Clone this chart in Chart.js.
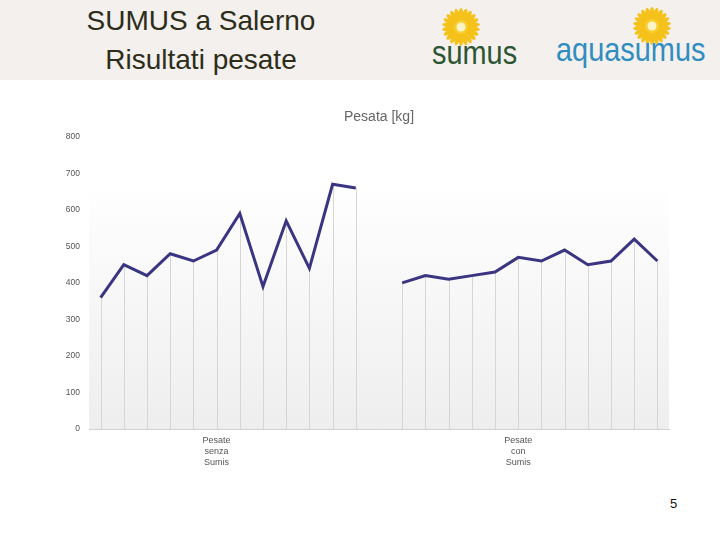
<!DOCTYPE html>
<html>
<head>
<meta charset="utf-8">
<script src="https://cdn.jsdelivr.net/npm/chart.js@4/dist/chart.umd.min.js"></script>
<style>
  body { margin: 0; width: 720px; height: 540px; background: #fff; position: relative; overflow: hidden; font-family: "Liberation Sans", Arial, sans-serif; }
  #header { position: absolute; left: 0; top: 0; width: 720px; height: 80px; background: #f3f0ed; }
  .title { position: absolute; left: 0; width: 402px; text-align: center; font-size: 28px; line-height: 32px; color: #2d2d1a; }
  .logo { position: absolute; font-size: 34px; line-height: 34px; transform: scaleX(0.85); transform-origin: left top; }
  #chartBox { position: absolute; left: 0; top: 90px; width: 720px; height: 400px; }
  #page { position: absolute; left: 670px; top: 496px; font-size: 13px; color: #111; }
</style>
</head>
<body>
<div id="header">
  <div class="title" style="top:5px;">SUMUS a Salerno</div>
  <div class="title" style="top:44px;">Risultati pesate</div>
  <svg style="position:absolute;left:441px;top:7px;" width="40" height="40" id="flower1"></svg>
  <svg style="position:absolute;left:632px;top:6px;" width="40" height="40" id="flower2"></svg>
  <div class="logo" style="left:432px;top:35px;color:#2c5533;">sumus</div>
  <div class="logo" style="left:556px;top:32px;color:#2f8dc0;">aquasumus</div>
</div>
<div id="chartBox"><canvas id="weighChart"></canvas></div>
<div id="page">5</div>

<script>
// data
const categories = [
  '', '', '', '', '', ['Pesate', 'senza', 'Sumis'], '', '', '', '', '', '',
  '',
  '', '', '', '', '', ['Pesate', 'con', 'Sumis'], '', '', '', '', '', ''
];
const weightsWithout = [360, 450, 420, 480, 460, 490, 590, 390, 570, 440, 670, 660];
const weightsWith = [400, 420, 410, 420, 430, 470, 460, 490, 450, 460, 520, 460];
const yTicks = [0, 100, 200, 300, 400, 500, 600, 700, 800];

// one series with a null gap between the two groups
const weights = weightsWithout.concat([null], weightsWith);

// sunflower icons
function drawFlower(id) {
  const svg = document.getElementById(id);
  let s = '';
  for (let i = 0; i < 22; i++) {
    const a = i * (360 / 22);
    s += '<ellipse cx="20" cy="8" rx="2.4" ry="7" fill="#f5c21b" transform="rotate(' + a + ' 20 20)"/>';
  }
  s += '<circle cx="20" cy="20" r="7" fill="#f8cf33"/>';
  s += '<circle cx="20" cy="20" r="4.5" fill="#fdf3c8"/>';
  svg.innerHTML = s;
}
drawFlower('flower1');
drawFlower('flower2');

// plot background gradient + drop lines from each point
const dropLines = {
  id: 'dropLines',
  beforeDatasetsDraw(chart) {
    const { ctx, chartArea, scales } = chart;
    const top = scales.y.getPixelForValue(680);
    const g = ctx.createLinearGradient(0, top, 0, chartArea.bottom);
    g.addColorStop(0, 'rgba(255,255,255,1)');
    g.addColorStop(1, '#eeeeee');
    ctx.save();
    ctx.fillStyle = g;
    ctx.fillRect(chartArea.left, top, chartArea.right - chartArea.left, chartArea.bottom - top);
    ctx.strokeStyle = '#d6d6d6';
    ctx.lineWidth = 1;
    const meta = chart.getDatasetMeta(0);
    meta.data.forEach((pt, i) => {
      if (weights[i] == null) return;
      const x = Math.round(pt.x) + 0.5;
      ctx.beginPath();
      ctx.moveTo(x, pt.y);
      ctx.lineTo(x, chartArea.bottom);
      ctx.stroke();
    });
    ctx.restore();
  }
};

const ctx = document.getElementById('weighChart').getContext('2d');
new Chart(ctx, {
  type: 'line',
  data: {
    labels: categories,
    datasets: [{
      label: 'Pesata [kg]',
      data: weights,
      borderColor: '#3a3580',
      borderWidth: 3,
      pointRadius: 0,
      tension: 0,
      spanGaps: false,
      fill: false
    }]
  },
  options: {
    responsive: true,
    maintainAspectRatio: false,
    animation: false,
    layout: { padding: { left: 0, right: 51, top: 0, bottom: 16 } },
    plugins: {
      legend: { display: false },
      tooltip: { enabled: false },
      title: {
        display: true,
        fullSize: false,
        text: 'Pesata [kg]',
        color: '#666',
        font: { family: 'Liberation Sans', size: 14, weight: 'normal' },
        padding: { top: 19, bottom: 11 }
      }
    },
    scales: {
      x: {
        offset: true,
        grid: { display: false, drawTicks: false },
        border: { display: true, color: '#cfcfcf', width: 1 },
        ticks: {
          autoSkip: false,
          maxRotation: 0,
          color: '#555',
          padding: 6,
          font: { family: 'Liberation Sans', size: 9, lineHeight: 1.22 }
        }
      },
      y: {
        min: 0,
        max: 800,
        afterBuildTicks: s => { s.ticks = yTicks.map(v => ({ value: v })); },
        afterFit: s => { s.width = 89; },
        grid: { display: false, drawTicks: false },
        border: { display: false },
        ticks: {
          color: '#555',
          padding: 9,
          font: { family: 'Liberation Sans', size: 8.5 }
        }
      }
    }
  },
  plugins: [dropLines]
});
</script>
</body>
</html>
